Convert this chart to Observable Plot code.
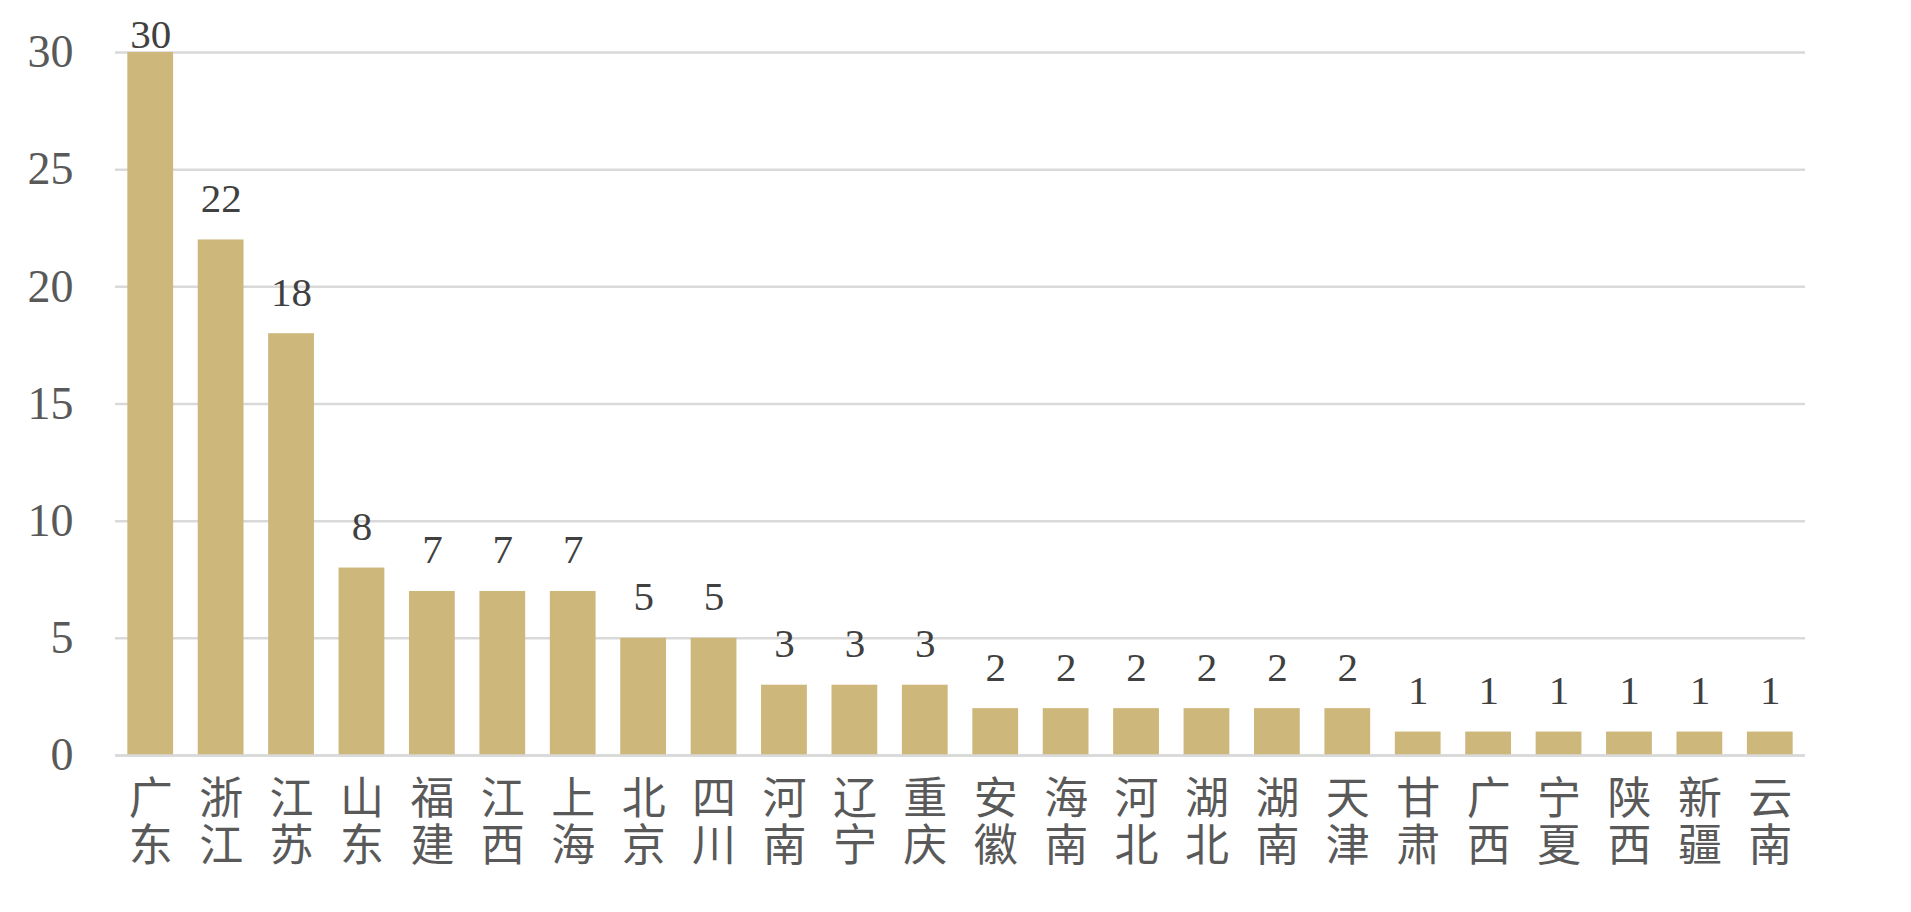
<!DOCTYPE html>
<html>
<head>
<meta charset="utf-8">
<script src="https://cdn.jsdelivr.net/npm/d3@7"></script>
<script src="https://cdn.jsdelivr.net/npm/@observablehq/plot@0.6"></script>
<style>
  html, body { margin: 0; padding: 0; background: #fff; }
</style>
</head>
<body>
<div id="chart"></div>
<script>
const provinces = ["广东","浙江","江苏","山东","福建","江西","上海","北京","四川","河南","辽宁","重庆","安徽","海南","河北","湖北","湖南","天津","甘肃","广西","宁夏","陕西","新疆","云南"];
const counts = [30,22,18,8,7,7,7,5,5,3,3,3,2,2,2,2,2,2,1,1,1,1,1,1];
const yTicks = [0,5,10,15,20,25,30];

const data = provinces.map((p, i) => ({name: p, value: counts[i]}));
const yMax = d3.max(yTicks);

const chart = Plot.plot({
  width: 1911,
  height: 912,
  marginLeft: 115,
  marginRight: 106,
  marginTop: 52,
  marginBottom: 157,
  style: {background: "#fff"},
  x: {domain: provinces, paddingInner: 0.35, paddingOuter: 0.175, round: false, label: null},
  y: {domain: [0, yMax], label: null},
  marks: [
    Plot.gridY(yTicks, {stroke: "#d9d9d9", strokeOpacity: 1, strokeWidth: 2.5}),
    Plot.barY(data, {x: "name", y: "value", fill: "#cdb77a", inset: 0}),
    Plot.ruleY([0], {stroke: "#d9d9d9", strokeWidth: 2.5}),
    Plot.axisY(yTicks, {tickSize: 0, tickPadding: 0, dx: -42, fontSize: 46, fontFamily: "Liberation Serif", fill: "#595959", label: null}),
    Plot.axisX({tickSize: 0, tickPadding: 27, tickFormat: d => d.slice(0, 1), fontSize: 44, fontFamily: "Noto Sans CJK SC", fill: "#595959", label: null}),
    Plot.axisX({tickSize: 0, tickPadding: 74, tickFormat: d => d.slice(1), fontSize: 44, fontFamily: "Noto Sans CJK SC", fill: "#595959", label: null}),
    Plot.text(data.filter(d => d.value < yMax), {x: "name", y: "value", text: "value", dy: -28, lineAnchor: "bottom", fontSize: 41, fontFamily: "Liberation Serif", fill: "#404040"}),
    Plot.text(data.filter(d => d.value >= yMax), {x: "name", y: "value", text: "value", dy: -5, lineAnchor: "bottom", fontSize: 41, fontFamily: "Liberation Serif", fill: "#404040"})
  ]
});
document.getElementById("chart").appendChild(chart);
</script>
</body>
</html>
